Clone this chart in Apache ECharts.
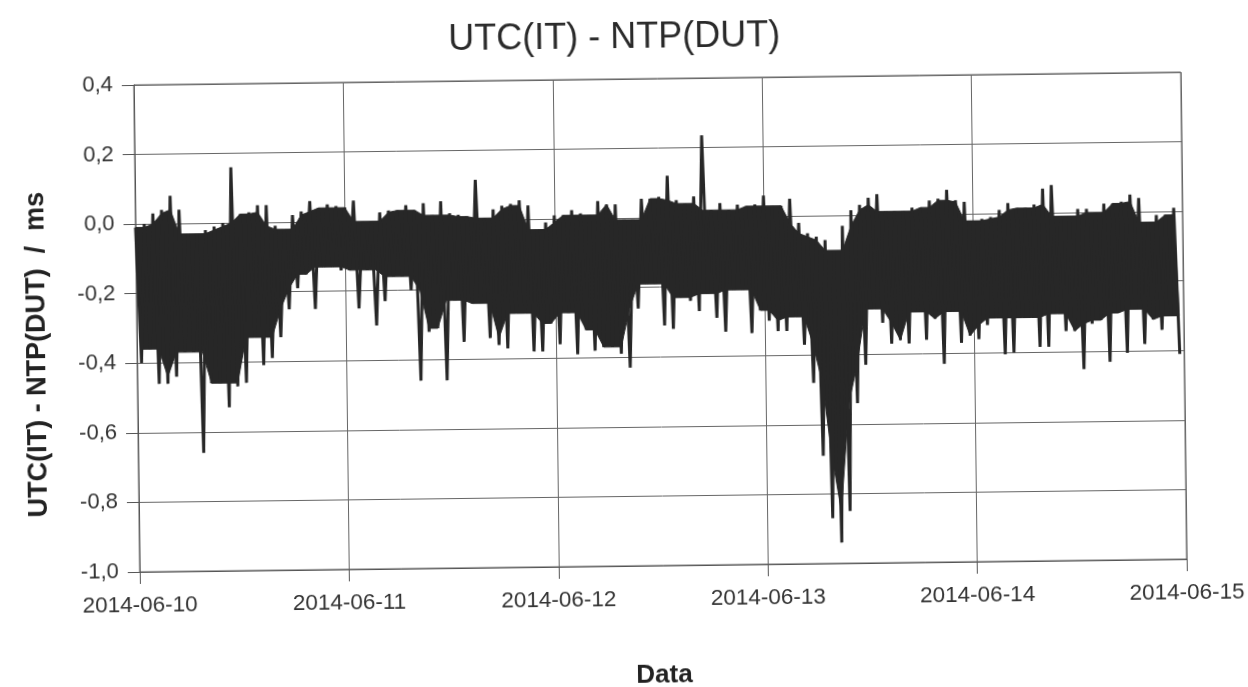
<!DOCTYPE html>
<html>
<head>
<meta charset="utf-8">
<script src="https://cdn.jsdelivr.net/npm/echarts@6/dist/echarts.min.js"></script>
<style>
html, body { margin: 0; padding: 0; background: #ffffff; overflow: hidden; }
#chart { width: 1248px; height: 687px; transform: rotate(-0.7deg); transform-origin: 50% 50%; }
</style>
</head>
<body>
<div id="chart"></div>
<script>
// Tick labels
const xTickLabels = ['2014-06-10', '2014-06-11', '2014-06-12', '2014-06-13', '2014-06-14', '2014-06-15'];
const yTickLabels = ['-1,0', '-0,8', '-0,6', '-0,4', '-0,2', '0,0', '0,2', '0,4'];

// Hourly upper (hh:00) and lower (hh:30) readings of UTC(IT) - NTP(DUT), ms
const upperJun10 = [-0.01, 0.00, 0.03, 0.04, 0.08, 0.04, -0.03, -0.03, -0.02, -0.01, 0.00, 0.16, 0.025, 0.03, 0.05, 0.05, -0.01, -0.02, 0.02, 0.03, 0.06, 0.04, 0.05, 0.045];
const lowerJun10 = [-0.40, -0.36, -0.46, -0.46, -0.44, -0.37, -0.37, -0.66, -0.46, -0.46, -0.53, -0.47, -0.46, -0.33, -0.41, -0.39, -0.33, -0.25, -0.19, -0.15, -0.25, -0.13, -0.13, -0.14];

const upperJun11 = [0.04, 0.06, 0.00, 0.00, 0.025, 0.03, 0.03, 0.045, 0.03, 0.05, 0.015, 0.055, 0.02, 0.015, 0.01, 0.115, 0.005, 0.03, 0.04, 0.045, 0.055, 0.04, -0.03, -0.01];
const lowerJun11 = [-0.14, -0.25, -0.14, -0.30, -0.23, -0.16, -0.16, -0.20, -0.46, -0.32, -0.31, -0.46, -0.23, -0.35, -0.24, -0.24, -0.34, -0.36, -0.37, -0.27, -0.27, -0.38, -0.38, -0.30];

const upperJun12 = [0.01, 0.01, 0.025, 0.015, 0.01, 0.05, 0.04, 0.04, -0.005, -0.005, 0.055, 0.055, 0.06, 0.12, 0.05, 0.04, 0.06, 0.235, 0.02, 0.04, 0.02, 0.035, 0.03, 0.035];
const lowerJun12 = [-0.36, -0.27, -0.39, -0.32, -0.38, -0.37, -0.37, -0.39, -0.43, -0.26, -0.19, -0.19, -0.31, -0.32, -0.23, -0.24, -0.27, -0.22, -0.29, -0.33, -0.21, -0.21, -0.335, -0.27];

const upperJun13 = [0.06, 0.03, 0.03, 0.05, -0.02, -0.05, -0.06, -0.07, -0.10, -0.03, 0.015, 0.03, 0.05, 0.06, 0.01, 0.01, 0.01, 0.02, 0.02, 0.04, 0.045, 0.07, 0.04, 0.035];
const lowerJun13 = [-0.30, -0.33, -0.33, -0.29, -0.37, -0.48, -0.69, -0.87, -0.94, -0.85, -0.54, -0.43, -0.27, -0.31, -0.37, -0.36, -0.37, -0.28, -0.36, -0.30, -0.43, -0.28, -0.37, -0.35];

const upperJun14 = [-0.02, -0.015, -0.01, 0.01, 0.03, 0.015, 0.015, 0.025, 0.07, 0.08, -0.01, -0.01, 0.01, 0.01, 0.00, 0.025, 0.025, 0.03, 0.05, 0.04, -0.03, -0.01, -0.01, 0.01];
const lowerJun14 = [-0.36, -0.32, -0.30, -0.405, -0.40, -0.30, -0.30, -0.385, -0.385, -0.29, -0.34, -0.34, -0.45, -0.32, -0.31, -0.43, -0.29, -0.405, -0.28, -0.38, -0.31, -0.34, -0.30, -0.41];

const days = [
  [upperJun10, lowerJun10],
  [upperJun11, lowerJun11],
  [upperJun12, lowerJun12],
  [upperJun13, lowerJun13],
  [upperJun14, lowerJun14]
];

// Build [hoursSinceStart, value] pairs for the measured line
const seriesData = [];
const allUpper = [], allLower = [];
days.forEach(function (pair, d) {
  const up = pair[0], lo = pair[1];
  for (let h = 0; h < up.length; h++) {
    seriesData.push([d * 24 + h, up[h]]);
    seriesData.push([d * 24 + h + 0.5, lo[h]]);
    allUpper.push(up[h]);
    allLower.push(lo[h]);
  }
});

// Inner (always-inked) part of the dense band: innermost of 3 neighbouring readings
function inner3(arr, i, pickMin) {
  const a = arr[Math.max(0, i - 1)], b = arr[i], c = arr[Math.min(arr.length - 1, i + 1)];
  return pickMin ? Math.min(a, b, c) : Math.max(a, b, c);
}

const FONT = "'Liberation Sans', Arial, sans-serif";
const INK = '#272727';

const chart = echarts.init(document.getElementById('chart'), null, { renderer: 'canvas' });
chart.setOption({
  animation: false,
  backgroundColor: '#ffffff',
  title: {
    text: 'UTC(IT) - NTP(DUT)',
    left: 447,
    top: 15,
    textStyle: { fontFamily: FONT, fontSize: 36, fontWeight: 'normal', color: '#2a2a2a' }
  },
  grid: {
    left: 137, right: 64, top: 79, bottom: 121,
    outerBoundsMode: 'none',
    show: true, borderColor: '#555555', borderWidth: 1, backgroundColor: 'transparent'
  },
  xAxis: {
    type: 'value',
    min: 0, max: 120, interval: 24,
    name: 'Data',
    nameLocation: 'middle',
    nameGap: 97,
    nameTextStyle: { fontFamily: FONT, fontSize: 26, fontWeight: 'bold', color: '#222222' },
    axisLine: { show: true, onZero: false, lineStyle: { color: '#555555', width: 1 } },
    axisTick: { show: true, inside: false, length: 12, lineStyle: { color: '#555555', width: 1 } },
    axisLabel: {
      margin: 22, fontFamily: FONT, fontSize: 22.5, color: '#333333',
      showMinLabel: true, showMaxLabel: true,
      formatter: function (v) { return xTickLabels[Math.round(v / 24)] || ''; }
    },
    splitLine: { show: true, lineStyle: { color: '#666666', width: 1 } }
  },
  yAxis: {
    type: 'value',
    min: -1.0, max: 0.4, interval: 0.2,
    name: 'UTC(IT) - NTP(DUT)  /  ms',
    nameLocation: 'middle',
    nameRotate: 90,
    nameGap: 86,
    nameTextStyle: { fontFamily: FONT, fontSize: 27, fontWeight: 'bold', color: '#222222', padding: [0, 50, 0, 0] },
    axisLine: { show: true, onZero: false, lineStyle: { color: '#555555', width: 1 } },
    axisTick: { show: true, inside: false, length: 12, lineStyle: { color: '#555555', width: 1 } },
    axisLabel: {
      margin: 21, fontFamily: FONT, fontSize: 22, color: '#333333',
      formatter: function (v) { return yTickLabels[Math.round((v + 1.0) / 0.2)] || ''; }
    },
    splitLine: { show: true, lineStyle: { color: '#666666', width: 1 } }
  },
  series: [
    {
      type: 'custom',
      silent: true,
      data: [[0, 0]],
      encode: { x: 0, y: 1 },
      z: 2,
      renderItem: function (params, api) {
        const pts = [];
        for (let i = 0; i < allUpper.length; i++) {
          pts.push(api.coord([i, inner3(allUpper, i, true)]));
        }
        for (let i = allLower.length - 1; i >= 0; i--) {
          pts.push(api.coord([i + 0.5, inner3(allLower, i, false)]));
        }
        return {
          type: 'polygon',
          shape: { points: pts },
          style: { fill: INK, stroke: INK, lineWidth: 1 }
        };
      }
    },
    {
      type: 'line',
      data: seriesData,
      showSymbol: false,
      symbol: 'none',
      silent: true,
      z: 3,
      lineStyle: { color: INK, width: 3, join: 'bevel' }
    }
  ]
});
</script>
</body>
</html>
